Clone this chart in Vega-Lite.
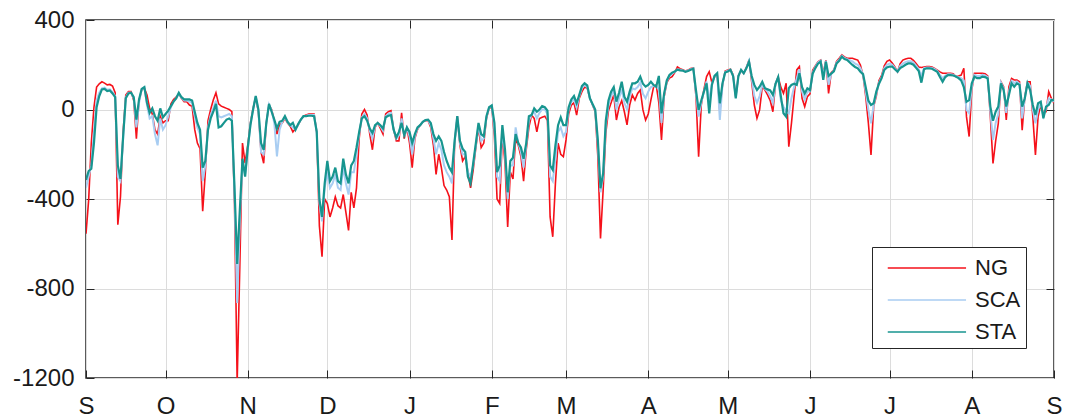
{
  "$schema": "https://vega.github.io/schema/vega-lite/v6.json",
  "width": 968,
  "height": 358,
  "autosize": {"type": "none"},
  "padding": {"left": 86, "top": 20, "right": 13, "bottom": 40},
  "background": "white",
  "config": {
    "view": {"stroke": "#262626", "strokeWidth": 1.5},
    "font": "Liberation Sans"
  },
  "data": {"values": [
    {"d":"2018-09-01","STA":-315,"SCA":-350,"NG":-555},
    {"d":"2018-09-02","STA":-275,"SCA":-300,"NG":-405},
    {"d":"2018-09-03","STA":-265,"SCA":-250,"NG":-150},
    {"d":"2018-09-04","STA":-150,"SCA":-100,"NG":10},
    {"d":"2018-09-05","STA":10,"SCA":40,"NG":100},
    {"d":"2018-09-06","STA":60,"SCA":75,"NG":115},
    {"d":"2018-09-07","STA":90,"SCA":95,"NG":124},
    {"d":"2018-09-08","STA":92,"SCA":98,"NG":118},
    {"d":"2018-09-09","STA":82,"SCA":88,"NG":110},
    {"d":"2018-09-10","STA":85,"SCA":90,"NG":112},
    {"d":"2018-09-11","STA":72,"SCA":78,"NG":105},
    {"d":"2018-09-12","STA":55,"SCA":60,"NG":75},
    {"d":"2018-09-13","STA":-250,"SCA":-300,"NG":-515},
    {"d":"2018-09-14","STA":-310,"SCA":-320,"NG":-390},
    {"d":"2018-09-15","STA":-120,"SCA":-130,"NG":-100},
    {"d":"2018-09-16","STA":50,"SCA":55,"NG":65},
    {"d":"2018-09-17","STA":72,"SCA":75,"NG":80},
    {"d":"2018-09-18","STA":75,"SCA":76,"NG":80},
    {"d":"2018-09-19","STA":55,"SCA":50,"NG":40},
    {"d":"2018-09-20","STA":-45,"SCA":-80,"NG":-130},
    {"d":"2018-09-21","STA":45,"SCA":30,"NG":40},
    {"d":"2018-09-22","STA":92,"SCA":90,"NG":88},
    {"d":"2018-09-23","STA":100,"SCA":98,"NG":95},
    {"d":"2018-09-24","STA":30,"SCA":20,"NG":65},
    {"d":"2018-09-25","STA":-15,"SCA":-40,"NG":5},
    {"d":"2018-09-26","STA":5,"SCA":-30,"NG":-20},
    {"d":"2018-09-27","STA":-30,"SCA":-110,"NG":-90},
    {"d":"2018-09-28","STA":-50,"SCA":-160,"NG":-110},
    {"d":"2018-09-29","STA":5,"SCA":-40,"NG":-30},
    {"d":"2018-09-30","STA":-35,"SCA":-90,"NG":-60},
    {"d":"2018-10-01","STA":-20,"SCA":-70,"NG":-50},
    {"d":"2018-10-02","STA":-5,"SCA":-30,"NG":-50},
    {"d":"2018-10-03","STA":15,"SCA":10,"NG":25},
    {"d":"2018-10-04","STA":35,"SCA":35,"NG":45},
    {"d":"2018-10-05","STA":50,"SCA":50,"NG":55},
    {"d":"2018-10-06","STA":75,"SCA":72,"NG":70},
    {"d":"2018-10-07","STA":55,"SCA":52,"NG":50},
    {"d":"2018-10-08","STA":45,"SCA":40,"NG":35},
    {"d":"2018-10-09","STA":45,"SCA":40,"NG":35},
    {"d":"2018-10-10","STA":45,"SCA":35,"NG":20},
    {"d":"2018-10-11","STA":40,"SCA":30,"NG":15},
    {"d":"2018-10-12","STA":-10,"SCA":-30,"NG":-90},
    {"d":"2018-10-13","STA":-60,"SCA":-80,"NG":-150},
    {"d":"2018-10-14","STA":-90,"SCA":-110,"NG":-175},
    {"d":"2018-10-15","STA":-260,"SCA":-320,"NG":-455},
    {"d":"2018-10-16","STA":-230,"SCA":-250,"NG":-280},
    {"d":"2018-10-17","STA":-90,"SCA":-80,"NG":-50},
    {"d":"2018-10-18","STA":-40,"SCA":-25,"NG":0},
    {"d":"2018-10-19","STA":-10,"SCA":5,"NG":42},
    {"d":"2018-10-20","STA":25,"SCA":40,"NG":75},
    {"d":"2018-10-21","STA":-80,"SCA":-30,"NG":25},
    {"d":"2018-10-22","STA":-75,"SCA":-35,"NG":15},
    {"d":"2018-10-23","STA":-60,"SCA":-30,"NG":10},
    {"d":"2018-10-24","STA":-45,"SCA":-25,"NG":5},
    {"d":"2018-10-25","STA":-40,"SCA":-20,"NG":0},
    {"d":"2018-10-26","STA":-50,"SCA":-30,"NG":-10},
    {"d":"2018-10-27","STA":-350,"SCA":-380,"NG":-420},
    {"d":"2018-10-28","STA":-690,"SCA":-865,"NG":-1220},
    {"d":"2018-10-29","STA":-450,"SCA":-500,"NG":-700},
    {"d":"2018-10-30","STA":-220,"SCA":-230,"NG":-150},
    {"d":"2018-10-31","STA":-300,"SCA":-290,"NG":-240},
    {"d":"2018-11-01","STA":-170,"SCA":-180,"NG":-160},
    {"d":"2018-11-02","STA":-70,"SCA":-65,"NG":-60},
    {"d":"2018-11-03","STA":0,"SCA":0,"NG":5},
    {"d":"2018-11-04","STA":60,"SCA":58,"NG":55},
    {"d":"2018-11-05","STA":0,"SCA":-5,"NG":-10},
    {"d":"2018-11-06","STA":-150,"SCA":-190,"NG":-190},
    {"d":"2018-11-07","STA":-180,"SCA":-200,"NG":-240},
    {"d":"2018-11-08","STA":-60,"SCA":-60,"NG":-60},
    {"d":"2018-11-09","STA":25,"SCA":22,"NG":20},
    {"d":"2018-11-10","STA":-10,"SCA":-5,"NG":0},
    {"d":"2018-11-11","STA":-45,"SCA":-60,"NG":-50},
    {"d":"2018-11-12","STA":-85,"SCA":-210,"NG":-110},
    {"d":"2018-11-13","STA":-55,"SCA":-90,"NG":-70},
    {"d":"2018-11-14","STA":-50,"SCA":-55,"NG":-60},
    {"d":"2018-11-15","STA":-30,"SCA":-35,"NG":-40},
    {"d":"2018-11-16","STA":-55,"SCA":-58,"NG":-60},
    {"d":"2018-11-17","STA":-70,"SCA":-72,"NG":-75},
    {"d":"2018-11-18","STA":-60,"SCA":-80,"NG":-100},
    {"d":"2018-11-19","STA":-90,"SCA":-88,"NG":-85},
    {"d":"2018-11-20","STA":-65,"SCA":-68,"NG":-70},
    {"d":"2018-11-21","STA":-45,"SCA":-45,"NG":-45},
    {"d":"2018-11-22","STA":-30,"SCA":-30,"NG":-30},
    {"d":"2018-11-23","STA":-30,"SCA":-28,"NG":-25},
    {"d":"2018-11-24","STA":-28,"SCA":-25,"NG":-20},
    {"d":"2018-11-25","STA":-28,"SCA":-25,"NG":-20},
    {"d":"2018-11-26","STA":-30,"SCA":-25,"NG":-20},
    {"d":"2018-11-27","STA":-100,"SCA":-100,"NG":-100},
    {"d":"2018-11-28","STA":-400,"SCA":-420,"NG":-520},
    {"d":"2018-11-29","STA":-480,"SCA":-500,"NG":-658},
    {"d":"2018-11-30","STA":-330,"SCA":-350,"NG":-400},
    {"d":"2018-12-01","STA":-230,"SCA":-280,"NG":-420},
    {"d":"2018-12-02","STA":-320,"SCA":-350,"NG":-480},
    {"d":"2018-12-03","STA":-300,"SCA":-330,"NG":-440},
    {"d":"2018-12-04","STA":-260,"SCA":-290,"NG":-390},
    {"d":"2018-12-05","STA":-320,"SCA":-350,"NG":-430},
    {"d":"2018-12-06","STA":-330,"SCA":-360,"NG":-440},
    {"d":"2018-12-07","STA":-220,"SCA":-260,"NG":-380},
    {"d":"2018-12-08","STA":-290,"SCA":-330,"NG":-460},
    {"d":"2018-12-09","STA":-330,"SCA":-380,"NG":-540},
    {"d":"2018-12-10","STA":-250,"SCA":-280,"NG":-370},
    {"d":"2018-12-11","STA":-230,"SCA":-280,"NG":-440},
    {"d":"2018-12-12","STA":-170,"SCA":-200,"NG":-350},
    {"d":"2018-12-13","STA":-100,"SCA":-110,"NG":-130},
    {"d":"2018-12-14","STA":-40,"SCA":-35,"NG":-20},
    {"d":"2018-12-15","STA":-30,"SCA":-20,"NG":0},
    {"d":"2018-12-16","STA":-50,"SCA":-40,"NG":-25},
    {"d":"2018-12-17","STA":-85,"SCA":-95,"NG":-110},
    {"d":"2018-12-18","STA":-105,"SCA":-130,"NG":-180},
    {"d":"2018-12-19","STA":-70,"SCA":-75,"NG":-80},
    {"d":"2018-12-20","STA":-60,"SCA":-60,"NG":-60},
    {"d":"2018-12-21","STA":-70,"SCA":-75,"NG":-85},
    {"d":"2018-12-22","STA":-85,"SCA":-95,"NG":-110},
    {"d":"2018-12-23","STA":-35,"SCA":-30,"NG":-20},
    {"d":"2018-12-24","STA":-28,"SCA":-20,"NG":-10},
    {"d":"2018-12-25","STA":-25,"SCA":-15,"NG":-5},
    {"d":"2018-12-26","STA":-90,"SCA":-90,"NG":-90},
    {"d":"2018-12-27","STA":-125,"SCA":-130,"NG":-140},
    {"d":"2018-12-28","STA":-100,"SCA":-115,"NG":-140},
    {"d":"2018-12-29","STA":-60,"SCA":-40,"NG":-15},
    {"d":"2018-12-30","STA":-115,"SCA":-120,"NG":-130},
    {"d":"2018-12-31","STA":-80,"SCA":-80,"NG":-80},
    {"d":"2019-01-01","STA":-100,"SCA":-120,"NG":-150},
    {"d":"2019-01-02","STA":-150,"SCA":-200,"NG":-260},
    {"d":"2019-01-03","STA":-110,"SCA":-120,"NG":-130},
    {"d":"2019-01-04","STA":-80,"SCA":-85,"NG":-90},
    {"d":"2019-01-05","STA":-70,"SCA":-70,"NG":-70},
    {"d":"2019-01-06","STA":-55,"SCA":-55,"NG":-55},
    {"d":"2019-01-07","STA":-47,"SCA":-48,"NG":-50},
    {"d":"2019-01-08","STA":-45,"SCA":-48,"NG":-50},
    {"d":"2019-01-09","STA":-60,"SCA":-70,"NG":-80},
    {"d":"2019-01-10","STA":-110,"SCA":-130,"NG":-160},
    {"d":"2019-01-11","STA":-140,"SCA":-200,"NG":-290},
    {"d":"2019-01-12","STA":-120,"SCA":-150,"NG":-200},
    {"d":"2019-01-13","STA":-140,"SCA":-180,"NG":-260},
    {"d":"2019-01-14","STA":-190,"SCA":-250,"NG":-340},
    {"d":"2019-01-15","STA":-230,"SCA":-280,"NG":-360},
    {"d":"2019-01-16","STA":-260,"SCA":-300,"NG":-390},
    {"d":"2019-01-17","STA":-280,"SCA":-330,"NG":-583},
    {"d":"2019-01-18","STA":-140,"SCA":-145,"NG":-150},
    {"d":"2019-01-19","STA":-30,"SCA":-30,"NG":-30},
    {"d":"2019-01-20","STA":-140,"SCA":-150,"NG":-160},
    {"d":"2019-01-21","STA":-175,"SCA":-200,"NG":-230},
    {"d":"2019-01-22","STA":-190,"SCA":-200,"NG":-210},
    {"d":"2019-01-23","STA":-300,"SCA":-280,"NG":-280},
    {"d":"2019-01-24","STA":-330,"SCA":-300,"NG":-350},
    {"d":"2019-01-25","STA":-240,"SCA":-250,"NG":-270},
    {"d":"2019-01-26","STA":-150,"SCA":-160,"NG":-170},
    {"d":"2019-01-27","STA":-60,"SCA":-70,"NG":-80},
    {"d":"2019-01-28","STA":-110,"SCA":-140,"NG":-170},
    {"d":"2019-01-29","STA":-120,"SCA":-130,"NG":-150},
    {"d":"2019-01-30","STA":-30,"SCA":-35,"NG":-40},
    {"d":"2019-01-31","STA":10,"SCA":8,"NG":5},
    {"d":"2019-02-01","STA":18,"SCA":15,"NG":10},
    {"d":"2019-02-02","STA":-60,"SCA":-90,"NG":-120},
    {"d":"2019-02-03","STA":-280,"SCA":-300,"NG":-400},
    {"d":"2019-02-04","STA":-250,"SCA":-320,"NG":-420},
    {"d":"2019-02-05","STA":-70,"SCA":-90,"NG":-110},
    {"d":"2019-02-06","STA":-180,"SCA":-200,"NG":-240},
    {"d":"2019-02-07","STA":-370,"SCA":-400,"NG":-525},
    {"d":"2019-02-08","STA":-230,"SCA":-250,"NG":-280},
    {"d":"2019-02-09","STA":-215,"SCA":-250,"NG":-310},
    {"d":"2019-02-10","STA":-110,"SCA":-80,"NG":-130},
    {"d":"2019-02-11","STA":-150,"SCA":-150,"NG":-160},
    {"d":"2019-02-12","STA":-170,"SCA":-190,"NG":-210},
    {"d":"2019-02-13","STA":-220,"SCA":-260,"NG":-320},
    {"d":"2019-02-14","STA":-150,"SCA":-160,"NG":-180},
    {"d":"2019-02-15","STA":-30,"SCA":-50,"NG":-80},
    {"d":"2019-02-16","STA":-25,"SCA":-25,"NG":-25},
    {"d":"2019-02-17","STA":5,"SCA":-10,"NG":-40},
    {"d":"2019-02-18","STA":-10,"SCA":-40,"NG":-100},
    {"d":"2019-02-19","STA":0,"SCA":-15,"NG":-40},
    {"d":"2019-02-20","STA":15,"SCA":0,"NG":-35},
    {"d":"2019-02-21","STA":10,"SCA":0,"NG":-30},
    {"d":"2019-02-22","STA":-5,"SCA":-20,"NG":-50},
    {"d":"2019-02-23","STA":-250,"SCA":-300,"NG":-480},
    {"d":"2019-02-24","STA":-270,"SCA":-320,"NG":-569},
    {"d":"2019-02-25","STA":-160,"SCA":-220,"NG":-330},
    {"d":"2019-02-26","STA":-70,"SCA":-100,"NG":-150},
    {"d":"2019-02-27","STA":-35,"SCA":-80,"NG":-200},
    {"d":"2019-02-28","STA":-70,"SCA":-120,"NG":-211},
    {"d":"2019-03-01","STA":-70,"SCA":-100,"NG":-136},
    {"d":"2019-03-02","STA":10,"SCA":0,"NG":-20},
    {"d":"2019-03-03","STA":45,"SCA":35,"NG":20},
    {"d":"2019-03-04","STA":60,"SCA":45,"NG":30},
    {"d":"2019-03-05","STA":28,"SCA":10,"NG":-25},
    {"d":"2019-03-06","STA":65,"SCA":60,"NG":50},
    {"d":"2019-03-07","STA":105,"SCA":95,"NG":80},
    {"d":"2019-03-08","STA":117,"SCA":110,"NG":100},
    {"d":"2019-03-09","STA":108,"SCA":100,"NG":95},
    {"d":"2019-03-10","STA":50,"SCA":50,"NG":50},
    {"d":"2019-03-11","STA":25,"SCA":22,"NG":20},
    {"d":"2019-03-12","STA":0,"SCA":-5,"NG":-10},
    {"d":"2019-03-13","STA":-136,"SCA":-160,"NG":-211},
    {"d":"2019-03-14","STA":-352,"SCA":-370,"NG":-576},
    {"d":"2019-03-15","STA":-285,"SCA":-300,"NG":-360},
    {"d":"2019-03-16","STA":-50,"SCA":-70,"NG":-106},
    {"d":"2019-03-17","STA":40,"SCA":20,"NG":-5},
    {"d":"2019-03-18","STA":80,"SCA":60,"NG":30},
    {"d":"2019-03-19","STA":100,"SCA":85,"NG":65},
    {"d":"2019-03-20","STA":35,"SCA":0,"NG":-47},
    {"d":"2019-03-21","STA":75,"SCA":50,"NG":10},
    {"d":"2019-03-22","STA":124,"SCA":90,"NG":40},
    {"d":"2019-03-23","STA":57,"SCA":30,"NG":-10},
    {"d":"2019-03-24","STA":35,"SCA":0,"NG":-69},
    {"d":"2019-03-25","STA":80,"SCA":60,"NG":20},
    {"d":"2019-03-26","STA":117,"SCA":95,"NG":65},
    {"d":"2019-03-27","STA":117,"SCA":90,"NG":42},
    {"d":"2019-03-28","STA":124,"SCA":100,"NG":72},
    {"d":"2019-03-29","STA":147,"SCA":120,"NG":87},
    {"d":"2019-03-30","STA":115,"SCA":70,"NG":-2},
    {"d":"2019-03-31","STA":102,"SCA":50,"NG":-47},
    {"d":"2019-04-01","STA":110,"SCA":80,"NG":-20},
    {"d":"2019-04-02","STA":124,"SCA":100,"NG":42},
    {"d":"2019-04-03","STA":110,"SCA":105,"NG":100},
    {"d":"2019-04-04","STA":102,"SCA":105,"NG":110},
    {"d":"2019-04-05","STA":150,"SCA":90,"NG":30},
    {"d":"2019-04-06","STA":-17,"SCA":-60,"NG":-136},
    {"d":"2019-04-07","STA":72,"SCA":65,"NG":57},
    {"d":"2019-04-08","STA":130,"SCA":125,"NG":120},
    {"d":"2019-04-09","STA":154,"SCA":150,"NG":140},
    {"d":"2019-04-10","STA":165,"SCA":160,"NG":147},
    {"d":"2019-04-11","STA":170,"SCA":168,"NG":165},
    {"d":"2019-04-12","STA":178,"SCA":180,"NG":190},
    {"d":"2019-04-13","STA":175,"SCA":178,"NG":182},
    {"d":"2019-04-14","STA":174,"SCA":175,"NG":178},
    {"d":"2019-04-15","STA":168,"SCA":170,"NG":172},
    {"d":"2019-04-16","STA":172,"SCA":174,"NG":176},
    {"d":"2019-04-17","STA":178,"SCA":180,"NG":183},
    {"d":"2019-04-18","STA":182,"SCA":184,"NG":186},
    {"d":"2019-04-19","STA":87,"SCA":70,"NG":60},
    {"d":"2019-04-20","STA":-2,"SCA":-32,"NG":-211},
    {"d":"2019-04-21","STA":40,"SCA":30,"NG":20},
    {"d":"2019-04-22","STA":80,"SCA":80,"NG":90},
    {"d":"2019-04-23","STA":117,"SCA":125,"NG":147},
    {"d":"2019-04-24","STA":-17,"SCA":40,"NG":169},
    {"d":"2019-04-25","STA":110,"SCA":115,"NG":120},
    {"d":"2019-04-26","STA":150,"SCA":148,"NG":145},
    {"d":"2019-04-27","STA":162,"SCA":160,"NG":158},
    {"d":"2019-04-28","STA":28,"SCA":-47,"NG":-10},
    {"d":"2019-04-29","STA":117,"SCA":110,"NG":110},
    {"d":"2019-04-30","STA":165,"SCA":168,"NG":172},
    {"d":"2019-05-01","STA":170,"SCA":174,"NG":177},
    {"d":"2019-05-02","STA":177,"SCA":178,"NG":180},
    {"d":"2019-05-03","STA":150,"SCA":152,"NG":155},
    {"d":"2019-05-04","STA":50,"SCA":55,"NG":57},
    {"d":"2019-05-05","STA":150,"SCA":150,"NG":150},
    {"d":"2019-05-06","STA":177,"SCA":176,"NG":175},
    {"d":"2019-05-07","STA":162,"SCA":162,"NG":162},
    {"d":"2019-05-08","STA":184,"SCA":186,"NG":188},
    {"d":"2019-05-09","STA":214,"SCA":218,"NG":221},
    {"d":"2019-05-10","STA":150,"SCA":140,"NG":125},
    {"d":"2019-05-11","STA":110,"SCA":60,"NG":20},
    {"d":"2019-05-12","STA":87,"SCA":30,"NG":-39},
    {"d":"2019-05-13","STA":102,"SCA":60,"NG":-2},
    {"d":"2019-05-14","STA":124,"SCA":110,"NG":102},
    {"d":"2019-05-15","STA":95,"SCA":92,"NG":87},
    {"d":"2019-05-16","STA":90,"SCA":80,"NG":65},
    {"d":"2019-05-17","STA":85,"SCA":60,"NG":40},
    {"d":"2019-05-18","STA":65,"SCA":30,"NG":-10},
    {"d":"2019-05-19","STA":115,"SCA":115,"NG":115},
    {"d":"2019-05-20","STA":145,"SCA":145,"NG":145},
    {"d":"2019-05-21","STA":60,"SCA":40,"NG":100},
    {"d":"2019-05-22","STA":-17,"SCA":13,"NG":72},
    {"d":"2019-05-23","STA":-32,"SCA":-10,"NG":117},
    {"d":"2019-05-24","STA":95,"SCA":-17,"NG":-166},
    {"d":"2019-05-25","STA":110,"SCA":50,"NG":-62},
    {"d":"2019-05-26","STA":115,"SCA":100,"NG":60},
    {"d":"2019-05-27","STA":110,"SCA":140,"NG":177},
    {"d":"2019-05-28","STA":162,"SCA":180,"NG":192},
    {"d":"2019-05-29","STA":100,"SCA":80,"NG":50},
    {"d":"2019-05-30","STA":72,"SCA":45,"NG":13},
    {"d":"2019-05-31","STA":95,"SCA":80,"NG":57},
    {"d":"2019-06-01","STA":87,"SCA":80,"NG":70},
    {"d":"2019-06-02","STA":160,"SCA":165,"NG":175},
    {"d":"2019-06-03","STA":185,"SCA":190,"NG":195},
    {"d":"2019-06-04","STA":205,"SCA":210,"NG":213},
    {"d":"2019-06-05","STA":214,"SCA":218,"NG":221},
    {"d":"2019-06-06","STA":132,"SCA":150,"NG":162},
    {"d":"2019-06-07","STA":214,"SCA":218,"NG":221},
    {"d":"2019-06-08","STA":150,"SCA":110,"NG":72},
    {"d":"2019-06-09","STA":160,"SCA":160,"NG":165},
    {"d":"2019-06-10","STA":170,"SCA":175,"NG":177},
    {"d":"2019-06-11","STA":205,"SCA":210,"NG":215},
    {"d":"2019-06-12","STA":218,"SCA":222,"NG":229},
    {"d":"2019-06-13","STA":236,"SCA":240,"NG":244},
    {"d":"2019-06-14","STA":225,"SCA":230,"NG":235},
    {"d":"2019-06-15","STA":221,"SCA":225,"NG":229},
    {"d":"2019-06-16","STA":210,"SCA":220,"NG":229},
    {"d":"2019-06-17","STA":199,"SCA":215,"NG":229},
    {"d":"2019-06-18","STA":190,"SCA":205,"NG":225},
    {"d":"2019-06-19","STA":184,"SCA":200,"NG":221},
    {"d":"2019-06-20","STA":169,"SCA":185,"NG":199},
    {"d":"2019-06-21","STA":158,"SCA":155,"NG":152},
    {"d":"2019-06-22","STA":100,"SCA":80,"NG":60},
    {"d":"2019-06-23","STA":40,"SCA":0,"NG":-60},
    {"d":"2019-06-24","STA":20,"SCA":-62,"NG":-203},
    {"d":"2019-06-25","STA":28,"SCA":20,"NG":13},
    {"d":"2019-06-26","STA":80,"SCA":70,"NG":60},
    {"d":"2019-06-27","STA":115,"SCA":120,"NG":130},
    {"d":"2019-06-28","STA":140,"SCA":145,"NG":152},
    {"d":"2019-06-29","STA":177,"SCA":185,"NG":195},
    {"d":"2019-06-30","STA":188,"SCA":200,"NG":215},
    {"d":"2019-07-01","STA":192,"SCA":205,"NG":221},
    {"d":"2019-07-02","STA":192,"SCA":200,"NG":208},
    {"d":"2019-07-03","STA":180,"SCA":185,"NG":190},
    {"d":"2019-07-04","STA":169,"SCA":169,"NG":169},
    {"d":"2019-07-05","STA":185,"SCA":195,"NG":205},
    {"d":"2019-07-06","STA":192,"SCA":205,"NG":221},
    {"d":"2019-07-07","STA":200,"SCA":212,"NG":226},
    {"d":"2019-07-08","STA":206,"SCA":216,"NG":229},
    {"d":"2019-07-09","STA":206,"SCA":216,"NG":229},
    {"d":"2019-07-10","STA":200,"SCA":210,"NG":220},
    {"d":"2019-07-11","STA":186,"SCA":196,"NG":206},
    {"d":"2019-07-12","STA":172,"SCA":180,"NG":190},
    {"d":"2019-07-13","STA":120,"SCA":150,"NG":188},
    {"d":"2019-07-14","STA":180,"SCA":185,"NG":190},
    {"d":"2019-07-15","STA":184,"SCA":188,"NG":192},
    {"d":"2019-07-16","STA":184,"SCA":188,"NG":192},
    {"d":"2019-07-17","STA":182,"SCA":186,"NG":190},
    {"d":"2019-07-18","STA":175,"SCA":180,"NG":184},
    {"d":"2019-07-19","STA":168,"SCA":172,"NG":176},
    {"d":"2019-07-20","STA":145,"SCA":155,"NG":168},
    {"d":"2019-07-21","STA":124,"SCA":140,"NG":162},
    {"d":"2019-07-22","STA":145,"SCA":152,"NG":162},
    {"d":"2019-07-23","STA":154,"SCA":158,"NG":162},
    {"d":"2019-07-24","STA":154,"SCA":158,"NG":162},
    {"d":"2019-07-25","STA":152,"SCA":156,"NG":160},
    {"d":"2019-07-26","STA":147,"SCA":148,"NG":147},
    {"d":"2019-07-27","STA":140,"SCA":144,"NG":150},
    {"d":"2019-07-28","STA":130,"SCA":140,"NG":154},
    {"d":"2019-07-29","STA":100,"SCA":130,"NG":184},
    {"d":"2019-07-30","STA":35,"SCA":-2,"NG":-32},
    {"d":"2019-07-31","STA":42,"SCA":-17,"NG":-121},
    {"d":"2019-08-01","STA":117,"SCA":100,"NG":87},
    {"d":"2019-08-02","STA":147,"SCA":155,"NG":162},
    {"d":"2019-08-03","STA":140,"SCA":150,"NG":162},
    {"d":"2019-08-04","STA":140,"SCA":150,"NG":162},
    {"d":"2019-08-05","STA":147,"SCA":155,"NG":162},
    {"d":"2019-08-06","STA":145,"SCA":152,"NG":160},
    {"d":"2019-08-07","STA":139,"SCA":145,"NG":150},
    {"d":"2019-08-08","STA":13,"SCA":-10,"NG":-32},
    {"d":"2019-08-09","STA":-50,"SCA":-136,"NG":-241},
    {"d":"2019-08-10","STA":-10,"SCA":-60,"NG":-140},
    {"d":"2019-08-11","STA":13,"SCA":-20,"NG":-62},
    {"d":"2019-08-12","STA":117,"SCA":120,"NG":124},
    {"d":"2019-08-13","STA":87,"SCA":95,"NG":102},
    {"d":"2019-08-14","STA":13,"SCA":-15,"NG":-47},
    {"d":"2019-08-15","STA":65,"SCA":80,"NG":102},
    {"d":"2019-08-16","STA":117,"SCA":128,"NG":139},
    {"d":"2019-08-17","STA":102,"SCA":118,"NG":132},
    {"d":"2019-08-18","STA":117,"SCA":125,"NG":132},
    {"d":"2019-08-19","STA":110,"SCA":115,"NG":124},
    {"d":"2019-08-20","STA":13,"SCA":-40,"NG":-92},
    {"d":"2019-08-21","STA":50,"SCA":52,"NG":57},
    {"d":"2019-08-22","STA":117,"SCA":120,"NG":124},
    {"d":"2019-08-23","STA":87,"SCA":105,"NG":124},
    {"d":"2019-08-24","STA":20,"SCA":0,"NG":-30},
    {"d":"2019-08-25","STA":-25,"SCA":-62,"NG":-203},
    {"d":"2019-08-26","STA":28,"SCA":0,"NG":-32},
    {"d":"2019-08-27","STA":35,"SCA":28,"NG":20},
    {"d":"2019-08-28","STA":-39,"SCA":-30,"NG":-17},
    {"d":"2019-08-29","STA":13,"SCA":5,"NG":-10},
    {"d":"2019-08-30","STA":20,"SCA":50,"NG":80},
    {"d":"2019-08-31","STA":42,"SCA":45,"NG":50},
    {"d":"2019-09-01","STA":42,"SCA":35,"NG":28}
  ]},
  "resolve": {"axis": {"x": "independent", "y": "independent"}},
  "layer": [
    {
      "mark": {"type": "line", "clip": true, "strokeWidth": 1.6, "interpolate": "linear"},
      "encoding": {
        "x": {
          "field": "d", "type": "temporal",
          "scale": {"type": "utc", "domain": [{"year": 2018, "month": 9, "date": 1, "utc": true}, {"year": 2019, "month": 9, "date": 1, "utc": true}]},
          "axis": {
            "orient": "bottom", "title": null, "domain": false, "grid": true, "gridColor": "#dcdcdc", "gridWidth": 1,
            "values": [
              {"year": 2018, "month": 9, "date": 1, "utc": true}, {"year": 2018, "month": 10, "date": 1, "utc": true},
              {"year": 2018, "month": 11, "date": 1, "utc": true}, {"year": 2018, "month": 12, "date": 1, "utc": true},
              {"year": 2019, "month": 1, "date": 1, "utc": true}, {"year": 2019, "month": 2, "date": 1, "utc": true},
              {"year": 2019, "month": 3, "date": 1, "utc": true}, {"year": 2019, "month": 4, "date": 1, "utc": true},
              {"year": 2019, "month": 5, "date": 1, "utc": true}, {"year": 2019, "month": 6, "date": 1, "utc": true},
              {"year": 2019, "month": 7, "date": 1, "utc": true}, {"year": 2019, "month": 8, "date": 1, "utc": true},
              {"year": 2019, "month": 9, "date": 1, "utc": true}
            ],
            "labelExpr": "slice(utcFormat(datum.value, '%b'), 0, 1)",
            "labelFontSize": 24, "labelFont": "Liberation Sans", "labelColor": "#1a1a1a",
            "labelFlush": false, "labelOverlap": false, "labelPadding": 24,
            "tickSize": -8, "tickColor": "#262626", "tickWidth": 1
          }
        },
        "y": {
          "field": "NG", "type": "quantitative",
          "scale": {"domain": [-1200, 400], "nice": false, "zero": false},
          "axis": {
            "orient": "left", "title": null, "domain": false, "grid": true, "gridColor": "#dcdcdc", "gridWidth": 1,
            "values": [-1200, -800, -400, 0, 400],
            "labelExpr": "'' + datum.value",
            "labelFontSize": 24, "labelFont": "Liberation Sans", "labelColor": "#1a1a1a", "labelPadding": 20,
            "tickSize": -8, "tickColor": "#262626", "tickWidth": 1
          }
        },
        "color": {
          "datum": "NG", "type": "nominal",
          "scale": {"domain": ["NG", "SCA", "STA"], "range": ["#f5111a", "#a8cdf2", "#17958f"]},
          "legend": {
            "orient": "none", "legendX": 786, "legendY": 227, "title": null,
            "symbolType": "M-0.35,0H4.87", "symbolSize": 900, "symbolStrokeWidth": 1.5,
            "labelFontSize": 22, "labelFont": "Liberation Sans", "labelColor": "#1a1a1a",
            "labelOffset": 66, "padding": 5, "rowPadding": 5,
            "strokeColor": "#262626", "fillColor": "white"
          }
        }
      }
    },
    {
      "mark": {"type": "line", "clip": true, "strokeWidth": 2},
      "encoding": {
        "x": {
          "field": "d", "type": "temporal",
          "axis": {
            "orient": "top", "title": null, "domain": false, "grid": false, "labels": false,
            "values": [
              {"year": 2018, "month": 10, "date": 1, "utc": true}, {"year": 2018, "month": 11, "date": 1, "utc": true},
              {"year": 2018, "month": 12, "date": 1, "utc": true}, {"year": 2019, "month": 1, "date": 1, "utc": true},
              {"year": 2019, "month": 2, "date": 1, "utc": true}, {"year": 2019, "month": 3, "date": 1, "utc": true},
              {"year": 2019, "month": 4, "date": 1, "utc": true}, {"year": 2019, "month": 5, "date": 1, "utc": true},
              {"year": 2019, "month": 6, "date": 1, "utc": true}, {"year": 2019, "month": 7, "date": 1, "utc": true},
              {"year": 2019, "month": 8, "date": 1, "utc": true}
            ],
            "tickSize": -8, "tickColor": "#262626", "tickWidth": 1
          }
        },
        "y": {
          "field": "SCA", "type": "quantitative",
          "axis": {
            "orient": "right", "title": null, "domain": false, "grid": false, "labels": false,
            "values": [-800, -400, 0],
            "tickSize": -8, "tickColor": "#262626", "tickWidth": 1
          }
        },
        "color": {"datum": "SCA", "type": "nominal"}
      }
    },
    {
      "mark": {"type": "line", "clip": true, "strokeWidth": 2.2},
      "encoding": {
        "x": {"field": "d", "type": "temporal", "axis": null},
        "y": {"field": "STA", "type": "quantitative", "axis": null},
        "color": {"datum": "STA", "type": "nominal"}
      }
    }
  ]
}
